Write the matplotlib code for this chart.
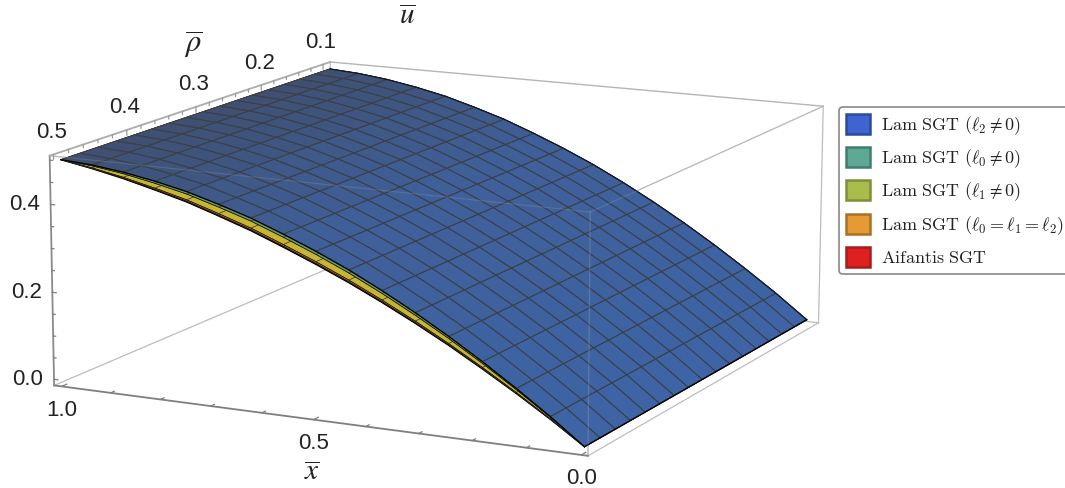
import numpy as np
import matplotlib
matplotlib.use("Agg")
import matplotlib.pyplot as plt
from matplotlib.colors import LinearSegmentedColormap
from matplotlib.patches import Patch
from mpl_toolkits.mplot3d import proj3d

plt.rcParams['font.family'] = ['Liberation Sans', 'DejaVu Sans']

x_vals = [k / 16 for k in range(17)]
rho_vals = [0.1 + 0.025 * k for k in range(17)]
u_blue = [0, .056, .108, .1574, .2037, .2469, .287, .324, .357, .3869, .4147, .4375, .4582, .4739, .4866, .4953, .5]
u_green = [0, .0546, .1053, .1535, .1989, .2413, .2807, .3172, .35, .3799, .4079, .4312, .4526, .4691, .4831, .4933, .5]
u_yellow = [0, .0514, .0993, .1447, .1881, .2285, .2663, .3017, .334, .3639, .3924, .4168, .4398, .4583, .4751, .4889, .5]
u_orange = [0, .0506, .0977, .1425, .1853, .2253, .2627, .2978, .33, .3599, .3885, .4132, .4366, .4555, .4731, .4877, .5]
u_red = [0, .0502, .097, .1414, .184, .2237, .2609, .2959, .328, .3579, .3866, .4114, .435, .4542, .4721, .4872, .5]

x_ticks = [0.0, 0.5, 1.0]
rho_ticks = [0.1, 0.2, 0.3, 0.4, 0.5]
u_ticks = [0.0, 0.2, 0.4]
legend_labels = [r'$\mathrm{Lam\ SGT}\ (\ell_2\neq 0)$', r'$\mathrm{Lam\ SGT}\ (\ell_0\neq 0)$',
                 r'$\mathrm{Lam\ SGT}\ (\ell_1\neq 0)$', r'$\mathrm{Lam\ SGT}\ (\ell_0=\ell_1=\ell_2)$',
                 r'$\mathrm{Aifantis\ SGT}$']
legend_faces = ['#3f63d0', '#5fa894', '#a8bd4c', '#e59a34', '#df2020']
legend_edges = ['#2a4a9c', '#3f7d70', '#7f8f3a', '#a9702a', '#a81c1c']

xlim = (-0.012, 1.015)
ylim = (0.088, 0.505)
zlim = (-0.014, 0.51)

fig = plt.figure(figsize=(10.65, 4.88), dpi=100)
ax = fig.add_axes([0, 0, 1, 1], projection="3d", computed_zorder=False)
ax.set_xlim(xlim)
ax.set_ylim(ylim)
ax.set_zlim(zlim)
ax.view_init(elev=12.565, azim=116.297, roll=-0.105)
ax.set_proj_type("persp", focal_length=0.943)
ax.set_box_aspect((2.5023, 2.5277, 1.0))
ax.set_axis_off()

# place the axes so the box lands where it does in the picture
s, tx, ty = 4428.0, 448.27, 242.33
vl = ax.viewLim
W = s * (vl.x1 - vl.x0)
ax.set_position([(tx + s * vl.x0) / 1065, (488 - ty + s * vl.y0) / 488, W / 1065, W / 488])


def edge(p, q, color='#bdbdbd', lw=0.9, z=1, alpha=1.0):
    ax.plot([p[0], q[0]], [p[1], q[1]], [p[2], q[2]], color=color, lw=lw, zorder=z, alpha=alpha)


x0, x1 = xlim
y0, y1 = ylim
z0, z1 = zlim

# box, back edges first so the surface hides them
edge((x1, y1, z0), (x1, y0, z0))
edge((x1, y0, z0), (x0, y0, z0))
edge((x1, y0, z0), (x1, y0, z1))
edge((x0, y0, z1), (x1, y0, z1), color='#b5b5b5', lw=1.0)
edge((x0, y0, z0), (x0, y0, z1))
edge((x0, y0, z0), (x0, y1, z0))
edge((x0, y0, z1), (x0, y1, z1))
edge((x1, y1, z1), (x0, y1, z1))
edge((x0, y1, z0), (x0, y1, z1))

X, Y = np.meshgrid(x_vals, rho_vals)
Z = np.tile(u_blue, (len(rho_vals), 1))

# the other results only show as a thin strip under the front edge
strips = [(u_red, '#a5301e'), (u_orange, '#c2601c'), (u_yellow, '#c8b52f'), (u_green, '#5e9a6d')]
Xs, Ys = np.meshgrid(x_vals, [rho_vals[0], rho_vals[-1]])
for i, (vals, col) in enumerate(strips):
    Zs = np.vstack([u_blue, vals])
    ax.plot_surface(Xs, Ys, Zs, color=col, shade=False, rstride=1, cstride=1,
                    edgecolor='#4a4a35', linewidth=0.5, zorder=3 + i)
    ax.plot(x_vals, [rho_vals[-1]] * 17, vals, color='black', lw=1.0 if i == 0 else 0.4, zorder=3 + i)

cm_s = LinearSegmentedColormap.from_list("s", ["#3e64a5", "#3f5f98", "#3f4e6d"])
ax.plot_surface(X, Y, Z, facecolors=cm_s(X), shade=False, rstride=1, cstride=1,
                edgecolor="#3a3f48", linewidth=0.75, zorder=10)
ax.plot(x_vals, [rho_vals[-1]] * 17, u_blue, color='black', lw=0.9, zorder=11)
ax.plot(x_vals, [rho_vals[0]] * 17, u_blue, color='#10182a', lw=0.9, zorder=11)
ax.plot([0, 0], [rho_vals[0], rho_vals[-1]], [u_blue[0], u_blue[0]], color='black', lw=1.0, zorder=11)

# faint parts of the box that show through the surface
edge((x0, y1, z0), (x0, y1, z1), color='#aaaaaa', lw=0.9, z=12, alpha=0.3)
edge((x1, y1, z1), (x0, y1, z1), color='#aaaaaa', lw=0.9, z=12, alpha=0.22)
edge((x0, y0, z1), (x0, y1, z1), color='#aaaaaa', lw=0.9, z=12, alpha=0.22)

# drawn axes
edge((x1, y1, z0), (x0, y1, z0), color='#7f7f7f', lw=1.3, z=13)
edge((x1, y1, z0), (x1, y1, z1), color='#8a8a8a', lw=1.3, z=13)
edge((x1, y1, z1), (x1, y0, z1), color='#ababab', lw=1.3, z=13)

for t in np.arange(0, 1.01, 0.1):
    tl = 0.007 if round(t * 10) % 5 == 0 else 0.005
    edge((t, y1, z0), (t, y1 - tl, z0), color='#7f7f7f', lw=0.9, z=13)
for t in np.arange(0.1, 0.501, 0.02):
    tl = 0.012 if round(t * 100) % 10 == 0 else 0.007
    edge((x1, t, z1), (x1, t, z1 - tl), color='#9a9a9a', lw=0.9, z=13)
for t in np.arange(0, 0.501, 0.05):
    tl = 0.008 if round(t * 100) % 20 == 0 else 0.005
    edge((x1, y1, t), (x1 - tl, y1, t), color='#7f7f7f', lw=0.9, z=13)


def tick_label(px3, py3, pz3, dx, dy, txt):
    a, b, _ = proj3d.proj_transform(px3, py3, pz3, ax.get_proj())
    ax.annotate(txt, xy=(a, b), xycoords='data', xytext=(dx, dy), textcoords='offset pixels',
                ha='center', va='center', fontsize=16, color='#222222', annotation_clip=False, zorder=20)


for t in rho_ticks:
    tick_label(x1, t, z1, -2, 22, '%.1f' % t)
for t in u_ticks:
    tick_label(x1, y1, t, -26, 0, '%.1f' % t)
for t in x_ticks:
    tick_label(t, y1, z0, 0, -24, '%.1f' % t)

fig.text(407 / 1065, 1 - 16 / 488, r'$\overline{u}$', fontsize=21, ha='center', va='center',
         math_fontfamily='stix', color='#222222')
fig.text(193 / 1065, 1 - 45 / 488, r'$\overline{\rho}$', fontsize=22, ha='center', va='center',
         math_fontfamily='stix', color='#222222')
fig.text(312 / 1065, 1 - 472 / 488, r'$\overline{x}$', fontsize=21, ha='center', va='center',
         math_fontfamily='stix', color='#222222')

handles = [Patch(facecolor=f, edgecolor=e, linewidth=1.8) for f, e in zip(legend_faces, legend_edges)]
leg = fig.legend(handles, legend_labels, loc='upper left', bbox_to_anchor=(839 / 1065, 1 - 107 / 488),
                 bbox_transform=fig.transFigure, borderaxespad=0, fontsize=13, handlelength=1.32, handleheight=1.32,
                 labelspacing=0.58, handletextpad=0.65, borderpad=0.37, frameon=True, fancybox=True,
                 framealpha=1, edgecolor='#888888')
leg.get_frame().set_linewidth(1.2)
for t in leg.get_texts():
    t.set_math_fontfamily('cm')
    t.set_color('#222222')

fig.savefig("out.png", dpi=100)
